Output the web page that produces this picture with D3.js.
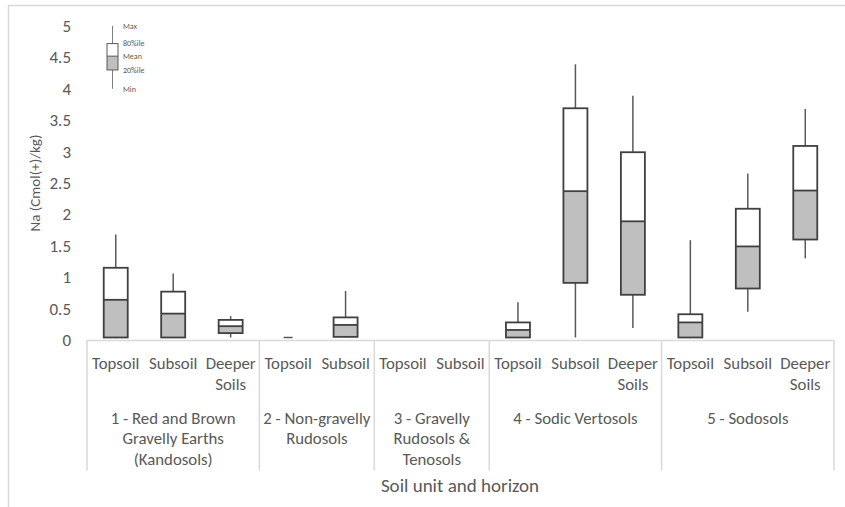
<!DOCTYPE html>
<html>
<head>
<meta charset="utf-8">
<script src="https://cdn.jsdelivr.net/npm/d3@7"></script>
<style>
  body { margin: 0; background: #fff; }
  svg { display: block; font-family: Carlito, Calibri, Lato, sans-serif; }
</style>
</head>
<body>
<div id="chart"></div>
<script>
// soil units and their horizons
var groupNames = [
  ["1 - Red and Brown", "Gravelly Earths", "(Kandosols)"],
  ["2 - Non-gravelly", "Rudosols"],
  ["3 - Gravelly", "Rudosols &", "Tenosols"],
  ["4 - Sodic Vertosols"],
  ["5 - Sodosols"]
];
var groupHorizons = [
  ["Topsoil", "Subsoil", "Deeper Soils"],
  ["Topsoil", "Subsoil"],
  ["Topsoil", "Subsoil"],
  ["Topsoil", "Subsoil", "Deeper Soils"],
  ["Topsoil", "Subsoil", "Deeper Soils"]
];

// Na statistics per category (null = no data)
var mins  = [0.03, 0.03, 0.04, 0.04, 0.04, null, null, 0.03, 0.04, 0.19, 0.03, 0.45, 1.30];
var p20s  = [0.04, 0.04, 0.11, 0.04, 0.05, null, null, 0.04, 0.91, 0.72, 0.04, 0.82, 1.60];
var means = [0.64, 0.42, 0.22, 0.04, 0.24, null, null, 0.16, 2.37, 1.89, 0.28, 1.49, 2.38];
var p80s  = [1.15, 0.77, 0.32, 0.04, 0.36, null, null, 0.28, 3.69, 2.99, 0.41, 2.09, 3.09];
var maxs  = [1.68, 1.06, 0.38, 0.04, 0.78, null, null, 0.60, 4.39, 3.89, 1.59, 2.65, 3.68];

var yTicks = [0, 0.5, 1, 1.5, 2, 2.5, 3, 3.5, 4, 4.5, 5];

// key drawn in data units at the top left
var legendLabels = ["Max", "80%ile", "Mean", "20%ile", "Min"];
var legendValues = [5.0, 4.72, 4.52, 4.3, 4.0];

var yTitle = "Na (Cmol(+)/kg)";
var xTitle = "Soil unit and horizon";

var svgWidth = 845, svgHeight = 507;
var textColor = "#595959";
var lineColor = "#d9d9d9";

var svg = d3.select("#chart").append("svg")
  .attr("width", svgWidth)
  .attr("height", svgHeight);

// chart frame (only top and left edge are inside the picture)
svg.append("rect")
  .attr("x", 8.5).attr("y", 5.5)
  .attr("width", 860).attr("height", 520)
  .attr("fill", "none")
  .attr("stroke", lineColor)
  .attr("stroke-width", 1.5);

// flatten categories
var cats = [];
groupHorizons.forEach(function(hs, g) {
  hs.forEach(function(h) { cats.push({ group: g, horizon: h }); });
});
cats.forEach(function(c, i) {
  c.i = i;
  c.min = mins[i]; c.p20 = p20s[i]; c.mean = means[i]; c.p80 = p80s[i]; c.max = maxs[i];
});

var x = d3.scaleBand().domain(d3.range(cats.length)).range([87, 834]).padding(0);
var y = d3.scaleLinear().domain([0, 5]).range([340, 26]);
var boxW = 24;

// y axis (labels only)
var yAxis = svg.append("g")
  .attr("transform", "translate(87,0)")
  .call(d3.axisLeft(y).tickValues(yTicks).tickSize(0).tickPadding(16)
    .tickFormat(function(d) { return String(d); }));
yAxis.select(".domain").remove();
yAxis.selectAll("text")
  .attr("fill", textColor)
  .style("font-size", "17px")
  .style("font-family", "Carlito, Calibri, Lato, sans-serif");

svg.append("text")
  .attr("transform", "translate(40," + ((y(0) + y(5)) / 2) + ") rotate(-90)")
  .attr("text-anchor", "middle")
  .attr("fill", textColor)
  .style("font-size", "15px")
  .text(yTitle);

// x axis line and group dividers
svg.append("line")
  .attr("x1", x.range()[0]).attr("x2", x.range()[1])
  .attr("y1", y(0) + 0.5).attr("y2", y(0) + 0.5)
  .attr("stroke", lineColor).attr("stroke-width", 1.5);

var bounds = [0];
var acc = 0;
groupHorizons.forEach(function(hs) { acc += hs.length; bounds.push(acc); });

svg.selectAll(".divider")
  .data(bounds)
  .enter().append("line")
  .attr("class", "divider")
  .attr("x1", function(b) { return b < cats.length ? x(b) : x.range()[1]; })
  .attr("x2", function(b) { return b < cats.length ? x(b) : x.range()[1]; })
  .attr("y1", y(0)).attr("y2", 470.5)
  .attr("stroke", lineColor).attr("stroke-width", 1.5);

// horizon labels
svg.selectAll(".hlabel")
  .data(cats)
  .enter().append("text")
  .attr("class", "hlabel")
  .attr("text-anchor", "middle")
  .attr("fill", textColor)
  .style("font-size", "16.8px")
  .each(function(c) {
    var words = c.horizon.split(" ");
    var t = d3.select(this);
    words.forEach(function(w, k) {
      t.append("tspan")
        .attr("x", x(c.i) + x.bandwidth() / 2)
        .attr("y", 369 + k * 20.5)
        .text(w);
    });
  });

// group labels
svg.selectAll(".glabel")
  .data(groupNames)
  .enter().append("text")
  .attr("class", "glabel")
  .attr("text-anchor", "middle")
  .attr("fill", textColor)
  .style("font-size", "16.8px")
  .each(function(lines, g) {
    var cx = (x(bounds[g]) + (bounds[g + 1] < cats.length ? x(bounds[g + 1]) : x.range()[1])) / 2;
    var t = d3.select(this);
    lines.forEach(function(l, k) {
      t.append("tspan").attr("x", cx).attr("y", 423.5 + k * 20.8).text(l);
    });
  });

svg.append("text")
  .attr("x", 460).attr("y", 492)
  .attr("text-anchor", "middle")
  .attr("fill", textColor)
  .style("font-size", "19px")
  .text(xTitle);

// boxes
var withData = cats.filter(function(c) { return c.mean != null; });
var boxes = svg.selectAll(".box")
  .data(withData)
  .enter().append("g")
  .attr("class", "box")
  .attr("transform", function(c) { return "translate(" + (x(c.i) + x.bandwidth() / 2) + ",0)"; });

// whiskers
boxes.append("line")
  .attr("x1", 0).attr("x2", 0)
  .attr("y1", function(c) { return y(c.max); })
  .attr("y2", function(c) { return y(c.p80); })
  .attr("stroke", "#595959").attr("stroke-width", 1.5);
boxes.append("line")
  .attr("x1", 0).attr("x2", 0)
  .attr("y1", function(c) { return y(c.p20); })
  .attr("y2", function(c) { return y(c.min); })
  .attr("stroke", "#595959").attr("stroke-width", 1.5);

boxes.each(function(c) {
  var g = d3.select(this);
  if (y(c.p20) - y(c.p80) < 1) {
    // flat box: only a short dash shows
    g.append("line")
      .attr("x1", -4.5).attr("x2", 4.5)
      .attr("y1", y(c.mean)).attr("y2", y(c.mean))
      .attr("stroke", "#595959").attr("stroke-width", 1.5);
    return;
  }
  g.append("rect")
    .attr("x", -boxW / 2).attr("width", boxW)
    .attr("y", y(c.mean)).attr("height", y(c.p20) - y(c.mean))
    .attr("fill", "#bfbfbf");
  g.append("rect")
    .attr("x", -boxW / 2).attr("width", boxW)
    .attr("y", y(c.p80)).attr("height", y(c.mean) - y(c.p80))
    .attr("fill", "#fff");
  g.append("rect")
    .attr("x", -boxW / 2).attr("width", boxW)
    .attr("y", y(c.p80)).attr("height", y(c.p20) - y(c.p80))
    .attr("fill", "none")
    .attr("stroke", "#404040").attr("stroke-width", 1.8);
  g.append("line")
    .attr("x1", -boxW / 2).attr("x2", boxW / 2)
    .attr("y1", y(c.mean)).attr("y2", y(c.mean))
    .attr("stroke", "#404040").attr("stroke-width", 1.8);
});

// legend key
var lx = 112.5, lw = 11;
var key = svg.append("g").attr("class", "key");
key.append("line")
  .attr("x1", lx).attr("x2", lx)
  .attr("y1", y(legendValues[0])).attr("y2", y(legendValues[4]))
  .attr("stroke", "#7f7f7f").attr("stroke-width", 1);
key.append("rect")
  .attr("x", lx - lw / 2).attr("width", lw)
  .attr("y", y(legendValues[1])).attr("height", y(legendValues[2]) - y(legendValues[1]))
  .attr("fill", "#fff");
key.append("rect")
  .attr("x", lx - lw / 2).attr("width", lw)
  .attr("y", y(legendValues[2])).attr("height", y(legendValues[3]) - y(legendValues[2]))
  .attr("fill", "#bfbfbf");
key.append("rect")
  .attr("x", lx - lw / 2).attr("width", lw)
  .attr("y", y(legendValues[1])).attr("height", y(legendValues[3]) - y(legendValues[1]))
  .attr("fill", "none").attr("stroke", "#595959").attr("stroke-width", 1);
key.append("line")
  .attr("x1", lx - lw / 2).attr("x2", lx + lw / 2)
  .attr("y1", y(legendValues[2])).attr("y2", y(legendValues[2]))
  .attr("stroke", "#595959").attr("stroke-width", 1);
key.selectAll(".klabel")
  .data(legendLabels)
  .enter().append("text")
  .attr("class", "klabel")
  .attr("x", lx + 10.5)
  .attr("y", function(d, i) { return y(legendValues[i]) + 2.7; })
  .attr("fill", "#595959")
  .style("font-size", "8px")
  .text(function(d) { return d; });
</script>
</body>
</html>
